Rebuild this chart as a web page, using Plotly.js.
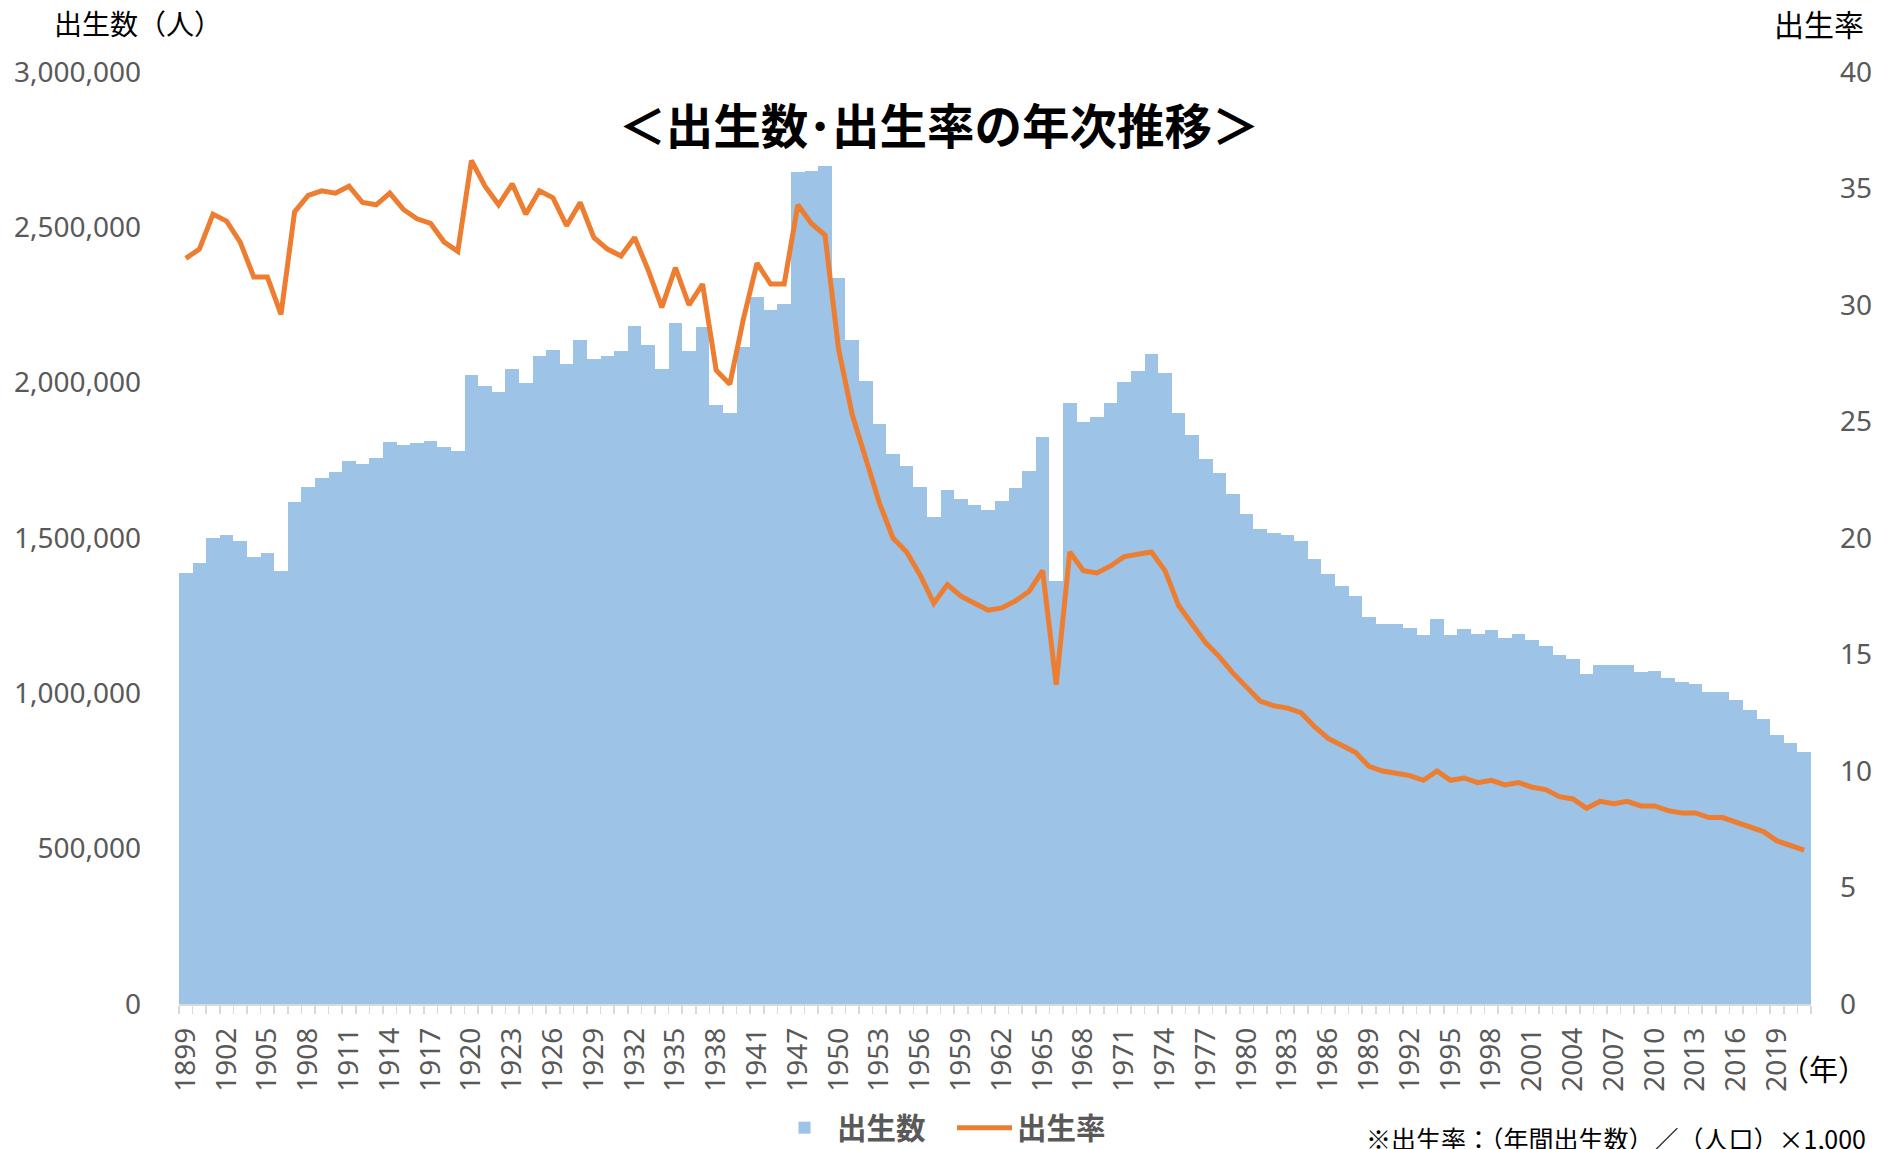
<!DOCTYPE html>
<html><head><meta charset="utf-8">
<script src="https://cdn.plot.ly/plotly-3.0.1.min.js"></script>
<style>html,body{margin:0;padding:0;background:#fff}#chart{width:1893px;height:1149px}</style>
</head><body><div id="chart"></div>
<script>
// Years (1944-1946 missing in source)
const years = [
"1899","1900","1901","1902","1903","1904","1905","1906","1907","1908","1909",
"1910","1911","1912","1913","1914","1915","1916","1917","1918","1919",
"1920","1921","1922","1923","1924","1925","1926","1927","1928","1929",
"1930","1931","1932","1933","1934","1935","1936","1937","1938","1939",
"1940","1941","1942","1943","1947","1948","1949",
"1950","1951","1952","1953","1954","1955","1956","1957","1958","1959",
"1960","1961","1962","1963","1964","1965","1966","1967","1968","1969",
"1970","1971","1972","1973","1974","1975","1976","1977","1978","1979",
"1980","1981","1982","1983","1984","1985","1986","1987","1988","1989",
"1990","1991","1992","1993","1994","1995","1996","1997","1998","1999",
"2000","2001","2002","2003","2004","2005","2006","2007","2008","2009",
"2010","2011","2012","2013","2014","2015","2016","2017","2018","2019",
"2020","2021"];

// 出生数（人）
const births = [
1386981,1420534,1501591,1510835,1489816,1440371,1452770,1394295,1614472,1662815,1693850,
1712857,1747803,1737674,1757441,1808402,1799326,1804822,1812413,1791992,1778685,
2025564,1990876,1969314,2043297,1998520,2086091,2104405,2060737,2135852,2077026,
2085101,2102784,2182742,2121253,2043783,2190704,2101969,2180734,1928321,1901573,
2115867,2277283,2233660,2253535,2678792,2681624,2696638,
2337507,2137689,2005162,1868040,1769580,1730692,1665278,1566713,1653469,1626088,
1606041,1589372,1618616,1659521,1716761,1823697,1360974,1935647,1871839,1889815,
1934239,2000973,2038682,2091983,2029989,1901440,1832617,1755100,1708643,1642580,
1576889,1529455,1515392,1508687,1489780,1431577,1382946,1346658,1314006,1246802,
1221585,1223245,1208989,1188282,1238328,1187064,1206555,1191665,1203147,1177669,
1190547,1170662,1153855,1123610,1110721,1062530,1092674,1089818,1091156,1070036,
1071304,1050806,1037231,1029816,1003539,1005677,977242,946146,918400,865239,
840835,811622];

// 出生率（人口千対）
const birthRates = [
32.0,32.4,33.9,33.6,32.7,31.2,31.2,29.6,34.0,34.7,34.9,
34.8,35.1,34.4,34.3,34.8,34.1,33.7,33.5,32.7,32.3,
36.2,35.1,34.3,35.2,33.9,34.9,34.6,33.4,34.4,32.9,
32.4,32.1,32.9,31.5,29.9,31.6,30.0,30.9,27.2,26.6,
29.4,31.8,30.9,30.9,34.3,33.5,33.0,
28.1,25.3,23.4,21.5,20.0,19.4,18.4,17.2,18.0,17.5,
17.2,16.9,17.0,17.3,17.7,18.6,13.7,19.4,18.6,18.5,
18.8,19.2,19.3,19.4,18.6,17.1,16.3,15.5,14.9,14.2,
13.6,13.0,12.8,12.7,12.5,11.9,11.4,11.1,10.8,10.2,
10.0,9.9,9.8,9.6,10.0,9.6,9.7,9.5,9.6,9.4,
9.5,9.3,9.2,8.9,8.8,8.4,8.7,8.6,8.7,8.5,
8.5,8.3,8.2,8.2,8.0,8.0,7.8,7.6,7.4,7.0,
6.8,6.6];

const leftTicks = [0,500000,1000000,1500000,2000000,2500000,3000000];
const rightTicks = [0,5,10,15,20,25,30,35,40];

const idx = years.map((y,i)=>i);
const labelIdx = idx.filter(i=>i%3===0);
const labelText = labelIdx.map(i=>years[i]);

const JP = '"Noto Sans CJK JP", "Noto Sans", sans-serif';
const NUM = '"Noto Sans", "Noto Sans CJK JP", sans-serif';
const tickFont = {family: NUM, size: 28, color: '#595959'};

const traces = [
  {type:'bar', name:'出生数', x: idx, y: births,
   marker:{color:'#9DC3E6', line:{width:0}}, hoverinfo:'y'},
  {type:'scatter', mode:'lines', name:'出生率', x: idx, y: birthRates, yaxis:'y2',
   line:{color:'#ED7D31', width:5, shape:'linear'}}
];

const PB = 1004, PT = 72, PH = PB - PT;

const layout = {
  width:1893, height:1149,
  margin:{l:179, r:82, t:PT, b:1149-PB, pad:0, autoexpand:false},
  paper_bgcolor:'#fff', plot_bgcolor:'#fff',
  bargap:0,
  showlegend:true,
  font:{family: JP},
  title:{text:'＜出生数･出生率の年次推移＞', x:939/1893, xanchor:'center', y:1-127/1149, yanchor:'middle',
         font:{family: JP, size:47.5, color:'#000', weight:'bold'}},
  xaxis:{type:'linear', range:[-0.5, idx.length-0.5], tickmode:'array', tickvals: labelIdx, ticktext: labelText,
         tickangle:-90, ticks:'', showline:true, linecolor:'#D9D9D9', linewidth:1.5, showgrid:false, zeroline:false,
         automargin:false, tickfont: tickFont, ticklabelstandoff: 11,
         minor:{tickmode:'linear', tick0:-0.5, dtick:1, ticks:'outside', ticklen:8, tickcolor:'#D9D9D9', tickwidth:1.5, showgrid:false}},
  yaxis:{range:[0,3000000], tickmode:'array', tickvals:leftTicks, tickformat:',d', showgrid:false, zeroline:false,
         automargin:false, showline:false, ticks:'', tickfont: tickFont, ticklabelstandoff: 37},
  yaxis2:{range:[0,40], overlaying:'y', side:'right', tickmode:'array', tickvals:rightTicks, showgrid:false, zeroline:false,
          automargin:false, showline:false, ticks:'', tickfont: tickFont, ticklabelstandoff: 28},
  legend:{orientation:'h', x:(772-179)/1632, xanchor:'left', y:-(1128-PB)/PH, yanchor:'middle',
          font:{family: JP, size:29.5, color:'#595959', weight:'bold'}, itemwidth:55, entrywidth:110, entrywidthmode:'pixels',
          traceorder:'normal', bgcolor:'rgba(0,0,0,0)'},
  annotations:[
    {text:'出生数（人）', xref:'paper', yref:'paper', x:(52-179)/1632, xanchor:'left', y:1+(PT-23)/PH, yanchor:'middle',
     showarrow:false, font:{family: JP, size:28, color:'#000'}},
    {text:'出生率', xref:'paper', yref:'paper', x:(1866-179)/1632, xanchor:'right', y:1+(PT-23)/PH, yanchor:'middle',
     showarrow:false, font:{family: JP, size:30, color:'#000'}},
    {text:'（年）', xref:'paper', yref:'paper', x:(1778-179)/1632, xanchor:'left', y:-(1068-PB)/PH, yanchor:'middle',
     showarrow:false, font:{family: JP, size:29, color:'#000'}},
    {text:'※出生率：（年間出生数）／（人口）×1,000', xref:'paper', yref:'paper', x:(1868-179)/1632, xanchor:'right',
     y:-(1118-PB)/PH, yanchor:'top', showarrow:false, font:{family: JP, size:25, color:'#000'}}
  ]
};

Plotly.newPlot('chart', traces, layout, {displayModeBar:false, staticPlot:true});
</script></body></html>
